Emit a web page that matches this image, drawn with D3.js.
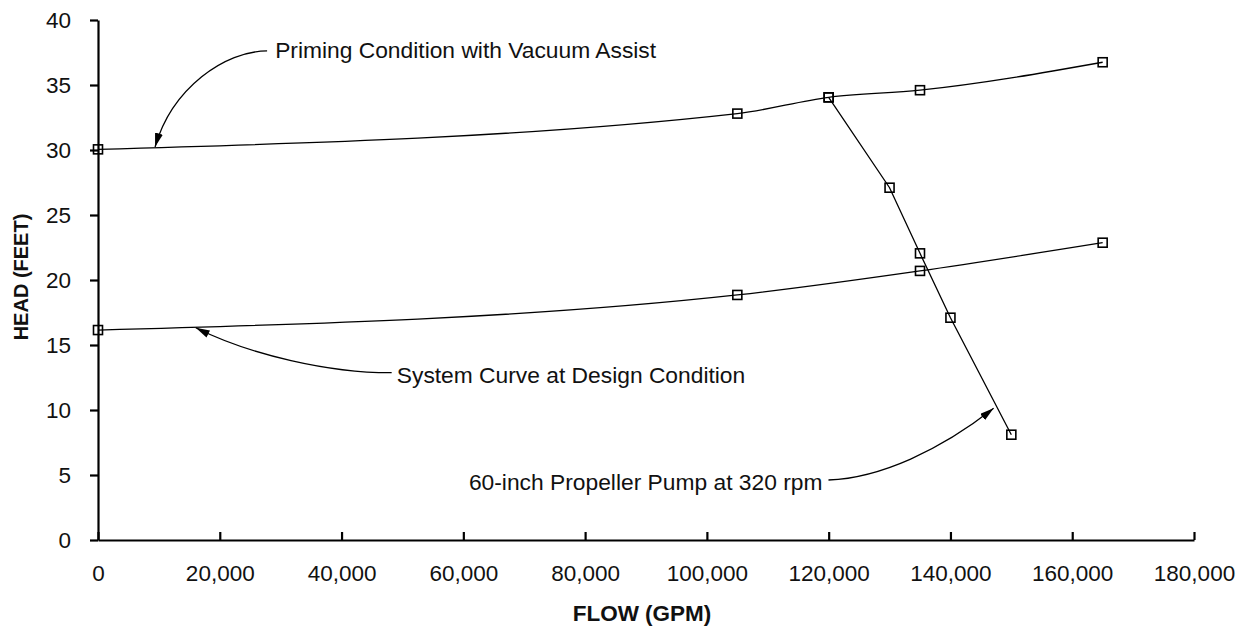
<!DOCTYPE html>
<html>
<head>
<meta charset="utf-8">
<script src="https://cdn.jsdelivr.net/npm/d3@7"></script>
<style>
  html, body { margin: 0; padding: 0; background: #fff; }
  svg { display: block; font-family: "Liberation Sans", Arial, sans-serif; }
</style>
</head>
<body>
<div id="chart"></div>
<script>
// ── Data ───────────────────────────────────────────────────────────────────
var primingFlow = [0, 105000, 120000, 135000, 165000];
var primingHead = [30.05, 32.8, 34.05, 34.6, 36.75];

var systemFlow = [0, 105000, 135000, 165000];
var systemHead = [16.15, 18.85, 20.7, 22.87];

var pumpFlow = [120000, 130000, 135000, 140000, 150000];
var pumpHead = [34.05, 27.1, 22.05, 17.1, 8.1];

var xTicks = [0, 20000, 40000, 60000, 80000, 100000, 120000, 140000, 160000, 180000];
var yTicks = [0, 5, 10, 15, 20, 25, 30, 35, 40];

// annotations, in data units: text anchor, then arrow start, two control points, tip
var noteText   = ["Priming Condition with Vacuum Assist", "System Curve at Design Condition", "60-inch Propeller Pump at 320 rpm"];
var noteAnchor = ["start", "start", "end"];
var notePos    = [[29090, 37.05], [49070, 12.1], [118980, 3.85]];
var noteArrow  = [
  [[27770, 37.62], [20870, 37.62], [12160, 34.77], [9370, 30.23]],
  [[48230, 12.87], [38130, 12.85], [24980, 14.23], [16060, 16.33]],
  [[119970, 4.615], [128510, 4.77], [138370, 6.92], [147090, 10.13]]
];

// ── Layout ─────────────────────────────────────────────────────────────────
var W = 1251, H = 629;
var x = d3.scaleLinear().domain([0, 180000]).range([98, 1194]);
var y = d3.scaleLinear().domain([0, 40]).range([540, 20]);

var svg = d3.select("#chart").append("svg").attr("width", W).attr("height", H);

svg.append("defs").append("marker")
  .attr("id", "head")
  .attr("viewBox", "0 0 14 8")
  .attr("refX", 14).attr("refY", 4)
  .attr("markerWidth", 14).attr("markerHeight", 8)
  .attr("markerUnits", "userSpaceOnUse")
  .attr("orient", "auto")
  .append("path").attr("d", "M0,0 L14,4 L0,8 Z").attr("fill", "#000");

// ── Axes ───────────────────────────────────────────────────────────────────
var gx = svg.append("g").attr("transform", "translate(0,540)")
  .call(d3.axisBottom(x).tickValues(xTicks).tickFormat(d3.format(","))
    .tickSizeInner(-8).tickSizeOuter(0).tickPadding(25));
var gy = svg.append("g").attr("transform", "translate(98,0)")
  .call(d3.axisLeft(y).tickValues(yTicks).tickSizeInner(8).tickSizeOuter(0).tickPadding(19));

[gx, gy].forEach(function (g) {
  g.selectAll("path,line").attr("stroke", "#000").attr("stroke-width", 2.2);
  g.selectAll("text").attr("fill", "#111").style("font-size", "22.5px")
    .style("font-family", "'Liberation Sans', Arial, sans-serif");
});

svg.append("text").attr("x", 642).attr("y", 621)
  .attr("text-anchor", "middle").attr("font-weight", "bold").style("font-size", "22.5px")
  .attr("fill", "#111").text("FLOW (GPM)");
svg.append("text").attr("transform", "translate(28,277) rotate(-90)")
  .attr("text-anchor", "middle").attr("font-weight", "bold").style("font-size", "20px")
  .attr("fill", "#111").text("HEAD (FEET)");

// ── Series ─────────────────────────────────────────────────────────────────
var series = [
  { pts: d3.zip(primingFlow, primingHead), curve: d3.curveMonotoneX },
  { pts: d3.zip(systemFlow, systemHead),   curve: d3.curveMonotoneX },
  { pts: d3.zip(pumpFlow, pumpHead),       curve: d3.curveLinear }
];

series.forEach(function (s) {
  var line = d3.line()
    .x(function (d) { return x(d[0]); })
    .y(function (d) { return y(d[1]); })
    .curve(s.curve);
  svg.append("path").datum(s.pts)
    .attr("fill", "none").attr("stroke", "#000").attr("stroke-width", 1.3)
    .attr("d", line);
});

series.forEach(function (s) {
  svg.append("g").selectAll("rect").data(s.pts).enter().append("rect")
    .attr("x", function (d) { return x(d[0]) - 4.5; })
    .attr("y", function (d) { return y(d[1]) - 4.5; })
    .attr("width", 9).attr("height", 9)
    .attr("fill", "none").attr("stroke", "#000").attr("stroke-width", 1.6);
});

// ── Annotations ────────────────────────────────────────────────────────────
noteText.forEach(function (t, i) {
  svg.append("text")
    .attr("x", x(notePos[i][0])).attr("y", y(notePos[i][1]))
    .attr("text-anchor", noteAnchor[i]).style("font-size", "22.8px")
    .attr("fill", "#111").text(t);

  var p = noteArrow[i].map(function (d) { return [x(d[0]), y(d[1])]; });
  var path = d3.path();
  path.moveTo(p[0][0], p[0][1]);
  path.bezierCurveTo(p[1][0], p[1][1], p[2][0], p[2][1], p[3][0], p[3][1]);
  svg.append("path").attr("d", path.toString())
    .attr("fill", "none").attr("stroke", "#000").attr("stroke-width", 1.3)
    .attr("marker-end", "url(#head)");
});
</script>
</body>
</html>
